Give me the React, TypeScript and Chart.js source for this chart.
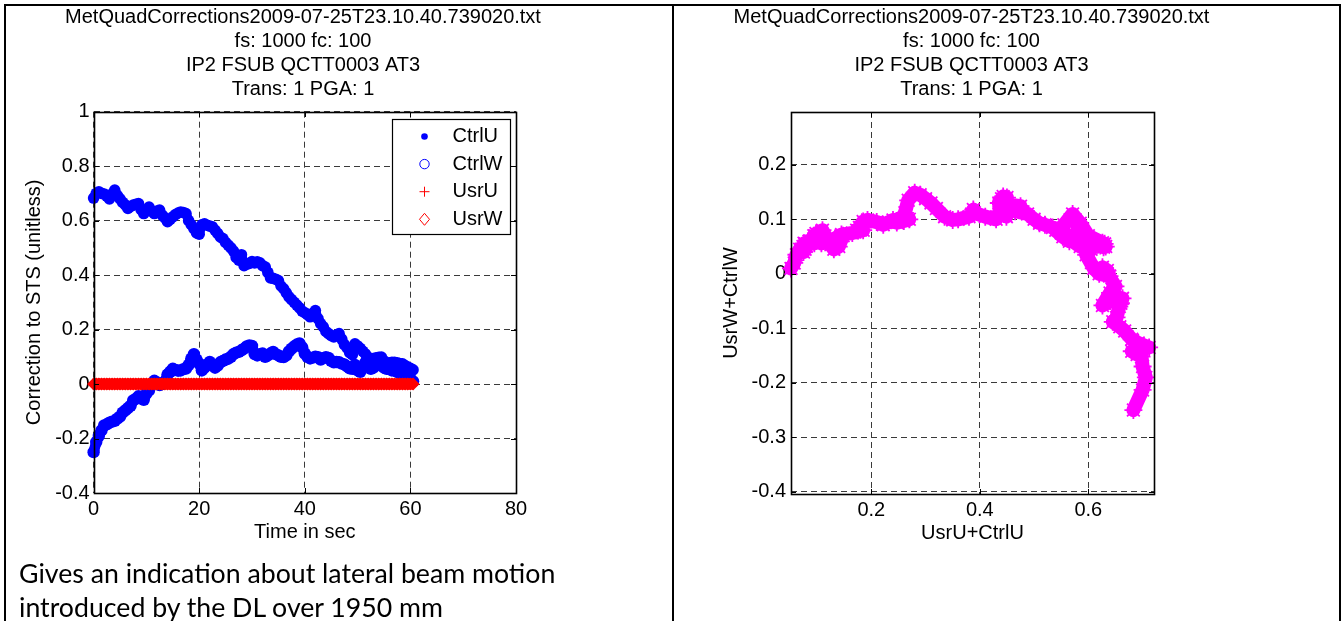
import React, { useEffect, useRef } from 'react';
import { Chart, registerables } from 'chart.js';

Chart.register(...registerables);
Chart.defaults.font.family = '"Liberation Sans", Arial, sans-serif';
Chart.defaults.font.size = 20;
Chart.defaults.color = '#000';

// ---------------- data ----------------
const titleLines = [
  'MetQuadCorrections2009-07-25T23.10.40.739020.txt',
  'fs: 1000 fc: 100',
  'IP2 FSUB QCTT0003 AT3',
  'Trans: 1 PGA: 1',
];
const seriesNames = ['CtrlU', 'CtrlW', 'UsrU', 'UsrW'];
const leftXLabel = 'Time in sec';
const leftYLabel = 'Correction to STS (unitless)';
const rightXLabel = 'UsrU+CtrlU';
const rightYLabel = 'UsrW+CtrlW';
const captionLines = [
  'Gives an indication about lateral beam motion',
  'introduced by the DL over 1950 mm',
];

const timeSec = [
  0, 0.5, 1, 1.5, 2, 2.5, 3, 3.5, 4, 4.5,
  5, 5.5, 6, 6.5, 7, 7.5, 8, 8.5, 9, 9.5,
  10, 10.5, 11, 11.5, 12, 12.5, 13, 13.5, 14, 14.5,
  15, 15.5, 16, 16.5, 17, 17.5, 18, 18.5, 19, 19.5,
  20, 20.5, 21, 21.5, 22, 22.5, 23, 23.5, 24, 24.5,
  25, 25.5, 26, 26.5, 27, 27.5, 28, 28.5, 29, 29.5,
  30, 30.5, 31, 31.5, 32, 32.5, 33, 33.5, 34, 34.5,
  35, 35.5, 36, 36.5, 37, 37.5, 38, 38.5, 39, 39.5,
  40, 40.5, 41, 41.5, 42, 42.5, 43, 43.5, 44, 44.5,
  45, 45.5, 46, 46.5, 47, 47.5, 48, 48.5, 49, 49.5,
  50, 50.5, 51, 51.5, 52, 52.5, 53, 53.5, 54, 54.5,
  55, 55.5, 56, 56.5, 57, 57.5, 58, 58.5, 59, 59.5,
  60, 60.5,
];

const ctrlU = [
  0.683, 0.700, 0.706, 0.700, 0.698, 0.690, 0.680, 0.698, 0.712, 0.692,
  0.680, 0.667, 0.658, 0.645, 0.652, 0.657, 0.660, 0.663, 0.640, 0.626,
  0.640, 0.650, 0.635, 0.626, 0.635, 0.639, 0.620, 0.610, 0.596, 0.605,
  0.614, 0.622, 0.628, 0.632, 0.630, 0.626, 0.600, 0.585, 0.571, 0.555,
  0.550, 0.585, 0.588, 0.583, 0.580, 0.577, 0.565, 0.553, 0.540, 0.534,
  0.520, 0.510, 0.500, 0.488, 0.465, 0.455, 0.475, 0.435, 0.440, 0.443,
  0.450, 0.445, 0.449, 0.445, 0.435, 0.430, 0.410, 0.390, 0.388, 0.385,
  0.380, 0.360, 0.350, 0.335, 0.320, 0.310, 0.300, 0.290, 0.280, 0.268,
  0.262, 0.255, 0.247, 0.260, 0.270, 0.240, 0.222, 0.210, 0.193, 0.185,
  0.178, 0.173, 0.180, 0.185, 0.165, 0.145, 0.133, 0.115, 0.108, 0.148,
  0.140, 0.131, 0.120, 0.110, 0.094, 0.095, 0.094, 0.096, 0.098, 0.099,
  0.085, 0.076, 0.078, 0.080, 0.080, 0.078, 0.075, 0.074, 0.068, 0.062,
  0.058, 0.052,
];

const ctrlW = [
  -0.250, -0.213, -0.190, -0.170, -0.152, -0.148, -0.142, -0.138, -0.135, -0.127,
  -0.120, -0.105, -0.097, -0.088, -0.080, -0.060, -0.054, -0.045, -0.050, -0.058,
  -0.035, -0.023, 0.000, 0.012, 0.006, -0.004, 0.000, 0.010, 0.035, 0.045,
  0.056, 0.052, 0.049, 0.050, 0.055, 0.057, 0.070, 0.093, 0.110, 0.090,
  0.075, 0.050, 0.060, 0.070, 0.081, 0.070, 0.060, 0.068, 0.080, 0.085,
  0.090, 0.093, 0.100, 0.110, 0.115, 0.118, 0.124, 0.130, 0.138, 0.142,
  0.140, 0.110, 0.105, 0.110, 0.112, 0.100, 0.105, 0.112, 0.118, 0.110,
  0.105, 0.100, 0.099, 0.105, 0.120, 0.130, 0.138, 0.145, 0.149, 0.135,
  0.112, 0.100, 0.094, 0.097, 0.100, 0.099, 0.090, 0.095, 0.099, 0.096,
  0.085, 0.080, 0.081, 0.080, 0.075, 0.072, 0.065, 0.058, 0.056, 0.070,
  0.050, 0.045, 0.060, 0.080, 0.070, 0.056, 0.060, 0.070, 0.074, 0.068,
  0.060, 0.056, 0.055, 0.050, 0.052, 0.045, 0.040, 0.050, 0.045, 0.035,
  0.020, 0.010,
];

const usrU = [
  0, 0, 0, 0, 0, 0, 0, 0, 0, 0,
  0, 0, 0, 0, 0, 0, 0, 0, 0, 0,
  0, 0, 0, 0, 0, 0, 0, 0, 0, 0,
  0, 0, 0, 0, 0, 0, 0, 0, 0, 0,
  0, 0, 0, 0, 0, 0, 0, 0, 0, 0,
  0, 0, 0, 0, 0, 0, 0, 0, 0, 0,
  0, 0, 0, 0, 0, 0, 0, 0, 0, 0,
  0, 0, 0, 0, 0, 0, 0, 0, 0, 0,
  0, 0, 0, 0, 0, 0, 0, 0, 0, 0,
  0, 0, 0, 0, 0, 0, 0, 0, 0, 0,
  0, 0, 0, 0, 0, 0, 0, 0, 0, 0,
  0, 0, 0, 0, 0, 0, 0, 0, 0, 0,
  0, 0,
];

const usrW = [
  0, 0, 0, 0, 0, 0, 0, 0, 0, 0,
  0, 0, 0, 0, 0, 0, 0, 0, 0, 0,
  0, 0, 0, 0, 0, 0, 0, 0, 0, 0,
  0, 0, 0, 0, 0, 0, 0, 0, 0, 0,
  0, 0, 0, 0, 0, 0, 0, 0, 0, 0,
  0, 0, 0, 0, 0, 0, 0, 0, 0, 0,
  0, 0, 0, 0, 0, 0, 0, 0, 0, 0,
  0, 0, 0, 0, 0, 0, 0, 0, 0, 0,
  0, 0, 0, 0, 0, 0, 0, 0, 0, 0,
  0, 0, 0, 0, 0, 0, 0, 0, 0, 0,
  0, 0, 0, 0, 0, 0, 0, 0, 0, 0,
  0, 0, 0, 0, 0, 0, 0, 0, 0, 0,
  0, 0,
];

// axis ranges
const leftXRange = [0, 80];
const leftXStep = 20;
const leftYRange = [-0.4, 1];
const leftYStep = 0.2;
const rightXRange = [0.052, 0.721];
const rightXStep = 0.2;
const rightYRange = [-0.404, 0.297];
const rightYStep = 0.1;

// ---------------- styling helpers ----------------
const BLUE = '#0000ff';
const RED = '#ff0000';
const MAGENTA = '#ff00ff';
const GRID = '#3a3a3a';

const fmt = (v: number) => String(Number(Number(v).toFixed(2)));

const framePlugin = {
  id: 'mframe',
  afterDatasetsDraw(chart: any) {
    const { ctx, chartArea: a, scales } = chart;
    const L = Math.round(a.left), R = Math.round(a.right), T = Math.round(a.top), B = Math.round(a.bottom);
    ctx.save();
    ctx.strokeStyle = '#000';
    ctx.lineWidth = 1;
    ctx.beginPath();
    scales.x.ticks.forEach((t: any) => {
      const px = Math.round(scales.x.getPixelForValue(t.value)) + 0.5;
      ctx.moveTo(px, B); ctx.lineTo(px, B - 5);
      ctx.moveTo(px, T); ctx.lineTo(px, T + 5);
    });
    scales.y.ticks.forEach((t: any) => {
      const py = Math.round(scales.y.getPixelForValue(t.value)) + 0.5;
      ctx.moveTo(L, py); ctx.lineTo(L + 5, py);
      ctx.moveTo(R, py); ctx.lineTo(R - 5, py);
    });
    ctx.stroke();
    ctx.lineWidth = 1.6;
    ctx.strokeRect(L + 0.5, T + 0.5, R - L, B - T);
    ctx.restore();
  },
};

const markerKinds = ['dot', 'circle', 'plus', 'diamond'];
const markerColors = [BLUE, BLUE, RED, RED];

function drawLegendMarker(ctx: CanvasRenderingContext2D, kind: string, x: number, y: number, color: string) {
  ctx.save();
  ctx.strokeStyle = color;
  ctx.fillStyle = color;
  ctx.lineWidth = 1;
  ctx.beginPath();
  if (kind === 'dot') {
    ctx.arc(x, y, 3.3, 0, Math.PI * 2);
    ctx.fill();
  } else if (kind === 'circle') {
    ctx.arc(x, y, 4.7, 0, Math.PI * 2);
    ctx.stroke();
  } else if (kind === 'plus') {
    ctx.moveTo(x - 5, y); ctx.lineTo(x + 5, y);
    ctx.moveTo(x, y - 5); ctx.lineTo(x, y + 5);
    ctx.stroke();
  } else {
    ctx.moveTo(x, y - 6); ctx.lineTo(x + 5, y); ctx.lineTo(x, y + 6); ctx.lineTo(x - 5, y);
    ctx.closePath();
    ctx.stroke();
  }
  ctx.restore();
}

const legendPlugin = {
  id: 'boxLegend',
  afterDraw(chart: any) {
    const { ctx, chartArea: a } = chart;
    const w = 118, h = 115;
    const x0 = Math.round(a.right - 6 - w) + 0.5;
    const y0 = Math.round(a.top + 7) + 0.5;
    ctx.save();
    ctx.fillStyle = '#fff';
    ctx.fillRect(x0, y0, w, h);
    ctx.strokeStyle = '#000';
    ctx.lineWidth = 1.2;
    ctx.strokeRect(x0, y0, w, h);
    ctx.font = '20px "Liberation Sans", Arial, sans-serif';
    ctx.textBaseline = 'middle';
    ctx.textAlign = 'left';
    seriesNames.forEach((name, i) => {
      const cy = y0 + 17 + i * 27.6;
      drawLegendMarker(ctx, markerKinds[i], x0 + 32, cy, markerColors[i]);
      ctx.fillStyle = '#000';
      ctx.fillText(name, x0 + 60, cy);
    });
    ctx.restore();
  },
};

function gridOpts() {
  return { color: GRID, lineWidth: 1, drawTicks: false, borderDash: [6, 4] };
}
function borderOpts() {
  return { display: false, dash: [6, 4] };
}
function spacerAxis(width: number) {
  return {
    type: 'linear', position: 'right', display: true,
    grid: { display: false, drawTicks: false }, border: { display: false },
    ticks: { display: false },
    afterFit: (s: any) => { s.width = width; },
  };
}

function LeftChart() {
  const ref = useRef<HTMLCanvasElement | null>(null);
  useEffect(() => {
    if (!ref.current) return;
    const pts = (arr: number[]) => timeSec.map((t, i) => ({ x: t, y: arr[i] }));
    const chart = new Chart(ref.current, {
      type: 'scatter',
      data: {
        datasets: [
          {
            label: seriesNames[0], data: pts(ctrlU), order: 4, showLine: true,
            borderColor: BLUE, borderWidth: 9.5, backgroundColor: BLUE,
            pointStyle: 'circle', pointRadius: 5.8, pointBorderWidth: 0,
            borderJoinStyle: 'round', borderCapStyle: 'round', clip: false,
          },
          {
            label: seriesNames[1], data: pts(ctrlW), order: 3, showLine: true,
            borderColor: BLUE, borderWidth: 10.5, backgroundColor: BLUE,
            pointStyle: 'circle', pointRadius: 6.2, pointBorderWidth: 0,
            borderJoinStyle: 'round', borderCapStyle: 'round', clip: false,
          },
          {
            label: seriesNames[2], data: pts(usrU), order: 2, showLine: false,
            borderColor: RED, backgroundColor: RED,
            pointStyle: 'cross', pointRadius: 5.5, pointBorderWidth: 2, clip: false,
          },
          {
            label: seriesNames[3], data: pts(usrW), order: 1, showLine: true,
            borderColor: RED, borderWidth: 11, borderCapStyle: 'butt', backgroundColor: RED,
            pointStyle: 'rectRot', pointRadius: 6.5, pointBorderWidth: 0, clip: false,
          },
        ],
      } as any,
      options: {
        animation: false,
        responsive: false,
        maintainAspectRatio: false,
        events: [],
        layout: { padding: { left: 0, right: 0, top: 0, bottom: 15.5 } },
        plugins: {
          legend: { display: false },
          tooltip: { enabled: false },
          title: {
            display: true, text: titleLines, color: '#000',
            font: { size: 20, weight: 'normal', lineHeight: 1.2 },
            padding: { top: 5, bottom: 10.7 },
          },
        },
        scales: {
          x: {
            type: 'linear', min: leftXRange[0], max: leftXRange[1],
            ticks: { stepSize: leftXStep, padding: 4.3, color: '#000', font: { size: 20 }, maxRotation: 0, callback: fmt },
            grid: gridOpts() as any, border: borderOpts() as any,
            title: { display: true, text: leftXLabel, color: '#000', font: { size: 20 }, padding: { top: 0, bottom: 0 } },
            afterFit: (s: any) => { s.height = 51.5; },
          },
          y: {
            type: 'linear', min: leftYRange[0], max: leftYRange[1],
            ticks: { stepSize: leftYStep, padding: 4, color: '#000', font: { size: 20 }, callback: fmt },
            grid: gridOpts() as any, border: borderOpts() as any,
            title: { display: true, text: leftYLabel, color: '#000', font: { size: 20 }, padding: { top: 22, bottom: 0 } },
            afterFit: (s: any) => { s.width = 93.6; },
          },
          ySpacer: spacerAxis(90),
        },
      } as any,
      plugins: [framePlugin, legendPlugin],
    });
    return () => chart.destroy();
  }, []);
  return <canvas ref={ref} width={606} height={560} style={{ position: 'absolute', left: 0, top: 0 }} />;
}

function RightChart() {
  const ref = useRef<HTMLCanvasElement | null>(null);
  useEffect(() => {
    if (!ref.current) return;
    const pts = timeSec.map((_, i) => ({ x: usrU[i] + ctrlU[i], y: usrW[i] + ctrlW[i] }));
    const chart = new Chart(ref.current, {
      type: 'scatter',
      data: {
        datasets: [
          {
            label: 'UsrW+CtrlW vs UsrU+CtrlU', data: pts, showLine: true,
            borderColor: MAGENTA, borderWidth: 14, backgroundColor: MAGENTA,
            pointStyle: 'star', pointRadius: 9, pointBorderWidth: 1.8,
            borderJoinStyle: 'round', borderCapStyle: 'round', clip: false,
          },
        ],
      } as any,
      options: {
        animation: false,
        responsive: false,
        maintainAspectRatio: false,
        events: [],
        layout: { padding: { left: 0, right: 0, top: 0, bottom: 15 } },
        plugins: {
          legend: { display: false },
          tooltip: { enabled: false },
          title: {
            display: true, text: titleLines, color: '#000',
            font: { size: 20, weight: 'normal', lineHeight: 1.2 },
            padding: { top: 5, bottom: 11 },
          },
        },
        scales: {
          x: {
            type: 'linear', min: rightXRange[0], max: rightXRange[1],
            ticks: { stepSize: rightXStep, includeBounds: false, padding: 4, color: '#000', font: { size: 20 }, maxRotation: 0, callback: fmt },
            grid: gridOpts() as any, border: borderOpts() as any,
            title: { display: true, text: rightXLabel, color: '#000', font: { size: 20 }, padding: { top: 0, bottom: 0 } },
            afterFit: (s: any) => { s.height = 51; },
          },
          y: {
            type: 'linear', min: rightYRange[0], max: rightYRange[1],
            ticks: { stepSize: rightYStep, includeBounds: false, padding: 5, color: '#000', font: { size: 20 }, callback: fmt },
            grid: gridOpts() as any, border: borderOpts() as any,
            title: { display: true, text: rightYLabel, color: '#000', font: { size: 20 }, padding: { top: 45, bottom: 0 } },
            afterFit: (s: any) => { s.width = 117; },
          },
          ySpacer: spacerAxis(115),
        },
      } as any,
      plugins: [framePlugin],
    });
    return () => chart.destroy();
  }, []);
  return <canvas ref={ref} width={595} height={560} style={{ position: 'absolute', left: 674, top: 0 }} />;
}

export default function App() {
  return (
    <div style={{ position: 'fixed', left: 0, top: 0, width: 1341, height: 621, overflow: 'hidden', background: '#fff' }}>
      <div style={{ position: 'absolute', left: 4, top: 4, width: 1337, height: 700, boxSizing: 'border-box', borderTop: '2px solid #000', borderLeft: '2px solid #000', borderRight: '2px solid #000' }} />
      <div style={{ position: 'absolute', left: 672, top: 4, width: 2, height: 700, background: '#000' }} />
      <LeftChart />
      <RightChart />
      <div style={{ position: 'absolute', left: 19, top: 556, fontFamily: 'Lato, "Open Sans", sans-serif', fontSize: 26.7, lineHeight: '34px', color: '#000', whiteSpace: 'nowrap' }}>
        {captionLines.map((l, i) => <div key={i}>{l}</div>)}
      </div>
    </div>
  );
}
